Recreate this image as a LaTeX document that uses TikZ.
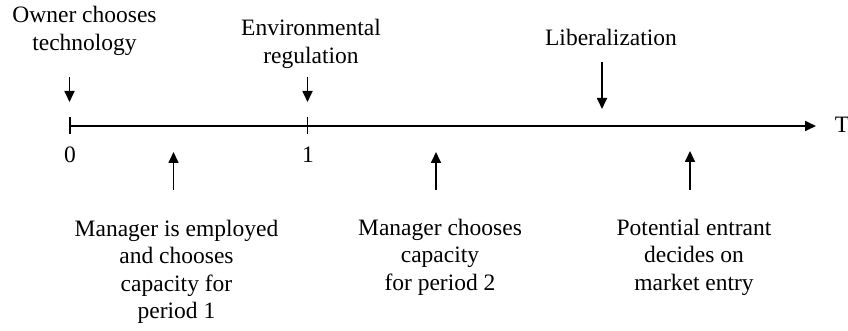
\documentclass[tikz,border=0pt]{standalone}
\usepackage{fontspec}
\setmainfont{Liberation Serif}
\usetikzlibrary{arrows.meta}
\begin{document}
\begin{tikzpicture}[x=1pt,y=-1pt,
  lbl/.style={font=\fontsize{23.5}{27.5}\selectfont, align=center, inner sep=0pt, anchor=base},
  evarrow/.style={line width=1.7pt, -{Triangle[length=11pt,width=10pt]}},
  axisline/.style={line width=1.7pt, -{Triangle[length=11pt,width=10pt]}},
  tickline/.style={line width=1.7pt}]
\useasboundingbox (0,0) rectangle (848,331);
% labels (anchor = baseline of the last line)
\node[lbl] (owner) at (84.5,50.5) {Owner chooses\\technology};
\node[lbl] (env) at (311,63.5) {Environmental\\regulation};
\node[lbl] (lib) at (611,46) {Liberalization};
\node[lbl] (zero) at (70,163) {0};
\node[lbl] (one) at (308,163) {1};
\node[lbl] (T) at (842,133) {T};
\node[lbl] (mgr1) at (176.5,318.5) {Manager is employed\\and chooses\\capacity for\\period 1};
\node[lbl] (mgr2) at (440,290) {Manager chooses\\capacity\\for period 2};
\node[lbl] (ent) at (694,290) {Potential entrant\\decides on\\market entry};
% axis
\coordinate (t0) at (70,126);
\coordinate (t1) at (307.5,126);
\coordinate (tend) at (816,126);
\draw[axisline] (t0) -- (tend);
\draw[tickline] ([yshift=8.5pt]t0) -- ([yshift=-8.5pt]t0);
\draw[tickline] ([yshift=8.5pt]t1) -- ([yshift=-8.5pt]t1);
% event arrows
\coordinate (d0s) at (69.5,77);   \coordinate (d0e) at (69.5,102);
\coordinate (d1s) at (307.5,77);  \coordinate (d1e) at (307.5,102);
\coordinate (dls) at (602,62);    \coordinate (dle) at (602,109);
\coordinate (u1s) at (173.5,190); \coordinate (u1e) at (173.5,152);
\coordinate (u2s) at (436,190);   \coordinate (u2e) at (436,152);
\coordinate (u3s) at (690,190);   \coordinate (u3e) at (690,151);
\draw[evarrow] (d0s) -- (d0e);
\draw[evarrow] (d1s) -- (d1e);
\draw[evarrow] (dls) -- (dle);
\draw[evarrow] (u1s) -- (u1e);
\draw[evarrow] (u2s) -- (u2e);
\draw[evarrow] (u3s) -- (u3e);
\end{tikzpicture}
\end{document}
